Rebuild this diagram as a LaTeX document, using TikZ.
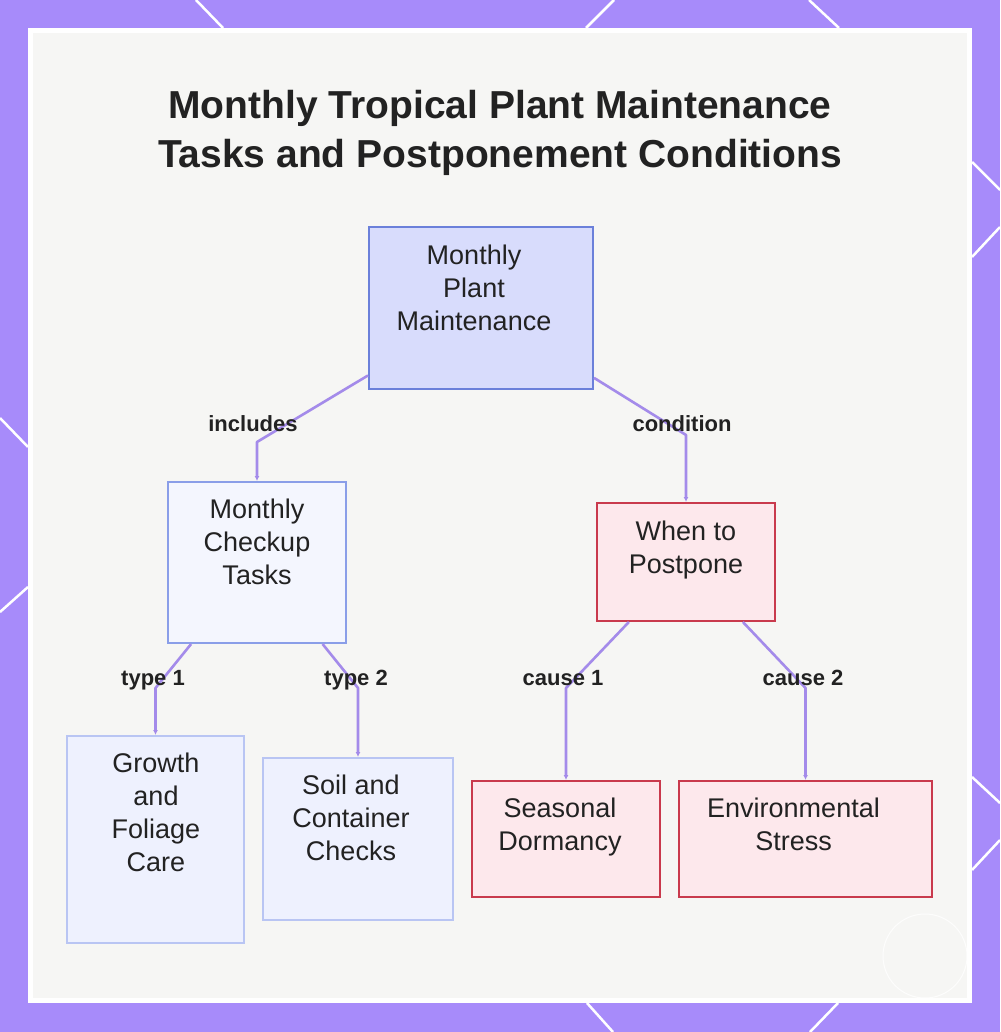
\documentclass[tikz,border=0pt]{standalone}
\usepackage{fontspec}
\setmainfont{Liberation Sans}
\usetikzlibrary{arrows.meta}
\definecolor{framec}{HTML}{A78BFA}
\definecolor{cardbg}{HTML}{F6F6F4}
\definecolor{textc}{HTML}{222222}
\definecolor{connc}{HTML}{A48BEA}
\definecolor{rootfill}{HTML}{D8DCFC}
\definecolor{rootdraw}{HTML}{6B80DA}
\definecolor{chkfill}{HTML}{F4F6FE}
\definecolor{chkdraw}{HTML}{8A9EE8}
\definecolor{leaffill}{HTML}{EEF1FE}
\definecolor{leafdraw}{HTML}{B9C5F3}
\definecolor{redfill}{HTML}{FDE8EC}
\definecolor{reddraw}{HTML}{C93A4D}
\tikzset{
  rootbox/.style={draw=rootdraw, fill=rootfill, line width=2pt, inner sep=0pt},
  chkbox/.style={draw=chkdraw, fill=chkfill, line width=2pt, inner sep=0pt},
  leafbox/.style={draw=leafdraw, fill=leaffill, line width=2pt, inner sep=0pt},
  redbox/.style={draw=reddraw, fill=redfill, line width=2pt, inner sep=0pt},
  txt/.style={font=\fontsize{27}{33}\selectfont, align=center, inner sep=0pt, text=textc, anchor=north},
  lab/.style={font=\bfseries\fontsize{22}{26}\selectfont, inner sep=0pt, text=textc, anchor=base},
  conn/.style={draw=connc, line width=2.6pt, line join=round, -{Latex[length=5pt,width=5pt]}},
  frameline/.style={draw=white, line width=2.5pt}
}
\begin{document}
\begin{tikzpicture}[x=1pt,y=-1pt]
\useasboundingbox (0,0) rectangle (1000,1032);
% frame
\fill[framec] (0,0) rectangle (1000,1032);
\draw[frameline] (196,0) -- (223,28);
\draw[frameline] (614,0) -- (586,28);
\draw[frameline] (809,0) -- (839,28);
\draw[frameline] (972,162) -- (1000,190);
\draw[frameline] (1000,227) -- (972,257);
\draw[frameline] (972,777) -- (1000,803);
\draw[frameline] (1000,840) -- (972,870);
\draw[frameline] (587,1003) -- (613,1032);
\draw[frameline] (838,1003) -- (810,1032);
\draw[frameline] (0,418) -- (28,447);
\draw[frameline] (28,587) -- (0,612);
% card
\fill[white] (28,28) rectangle (972,1003);
\fill[cardbg] (33,33) rectangle (967,998);
% watermark
\draw[white, line width=1pt, opacity=0.8] (925,956) circle (42);
% title
\node[font=\bfseries\fontsize{39}{49}\selectfont, align=center, inner sep=0pt, text=textc, anchor=north] (title) at (500,90) {Monthly Tropical Plant Maintenance\\Tasks and Postponement Conditions};
% boxes
\node[rootbox, minimum width=224pt, minimum height=162pt] (root) at (481,308) {};
\node[chkbox, minimum width=178pt, minimum height=161pt] (chk) at (257,562.5) {};
\node[redbox, minimum width=178pt, minimum height=118pt] (post) at (686,562) {};
\node[leafbox, minimum width=177pt, minimum height=207pt] (grow) at (155.5,839.5) {};
\node[leafbox, minimum width=190pt, minimum height=162pt] (soil) at (358,839) {};
\node[redbox, minimum width=188pt, minimum height=116pt] (seas) at (566,839) {};
\node[redbox, minimum width=253pt, minimum height=116pt] (env) at (805.5,839) {};
% bends
\coordinate (b1) at (257,442);
\coordinate (b2) at (686,435);
\coordinate (b3) at (155.5,688);
\coordinate (b4) at (358,688);
\coordinate (b5) at (566,688);
\coordinate (b6) at (805.5,688);
% connectors
\draw[conn] (root) -- (b1) -- (chk.north);
\draw[conn] (root) -- (b2) -- (post.north);
\draw[conn] (chk) -- (b3) -- (grow.north);
\draw[conn] (chk) -- (b4) -- (soil.north);
\draw[conn] (post) -- (b5) -- (seas.north);
\draw[conn] (post) -- (b6) -- (env.north);
% box texts
\node[txt] (rootT) at (474,245) {Monthly\\Plant\\Maintenance};
\node[txt] (chkT) at (257,499) {Monthly\\Checkup\\Tasks};
\node[txt] (postT) at (686,521) {When to\\Postpone};
\node[txt] (growT) at (156,753) {Growth\\and\\Foliage\\Care};
\node[txt] (soilT) at (351,775) {Soil and\\Container\\Checks};
\node[txt] (seasT) at (560,798) {Seasonal\\Dormancy};
\node[txt] (envT) at (793.5,798) {Environmental\\Stress};
% labels
\node[lab] (l1) at (253,431) {includes};
\node[lab] (l2) at (682,431) {condition};
\node[lab] (l3) at (153,685) {type 1};
\node[lab] (l4) at (356,685) {type 2};
\node[lab] (l5) at (563,685) {cause 1};
\node[lab] (l6) at (803,685) {cause 2};
\end{tikzpicture}
\end{document}
